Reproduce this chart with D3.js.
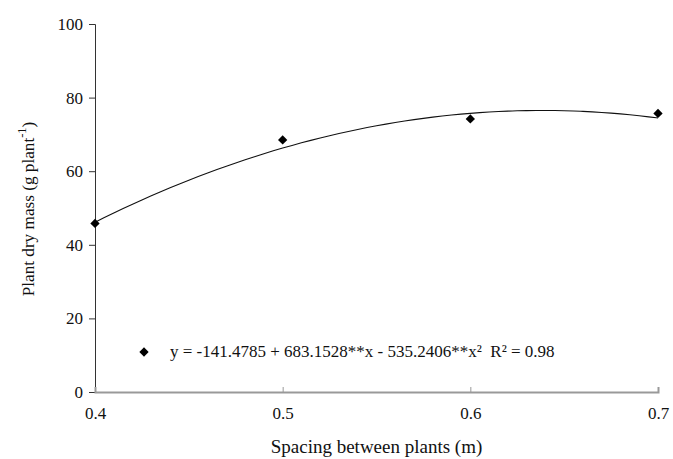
<!DOCTYPE html>
<html>
<head>
<meta charset="utf-8">
<script src="https://cdn.jsdelivr.net/npm/d3@7"></script>
<style>
  body { margin: 0; background: #fff; }
  text { font-family: "Liberation Serif", "Times New Roman", serif; }
</style>
</head>
<body>
<svg id="chart" width="673" height="459"></svg>
<script>
// observed values
const spacing = [0.4, 0.5, 0.6, 0.7];
const dryMass = [45.8, 68.5, 74.2, 75.7];
// regression coefficients shown in the legend
const coef = [-141.4785, 683.1528, -535.2406];
const xTicks = [0.4, 0.5, 0.6, 0.7];
const yTicks = [0, 20, 40, 60, 80, 100];

const margin = {top: 24, right: 15, bottom: 67, left: 95};
const width = 673 - margin.left - margin.right;
const height = 459 - margin.top - margin.bottom;

const svg = d3.select("#chart")
  .append("g")
  .attr("transform", `translate(${margin.left},${margin.top})`);

const x = d3.scaleLinear().domain([0.4, 0.7]).range([0, width]);
const y = d3.scaleLinear().domain([0, 100]).range([height, 0]);

// Y axis
const yAxis = svg.append("g")
  .call(d3.axisLeft(y).tickValues(yTicks).tickSize(6).tickPadding(6));
yAxis.select(".domain").attr("stroke", "#333");
yAxis.selectAll(".tick line").attr("stroke", "#333");
yAxis.selectAll("text").attr("font-size", 17).attr("fill", "#111")
  .style("font-family", "Liberation Serif");

// X axis (ticks point up)
const xAxis = svg.append("g")
  .attr("transform", `translate(0,${height})`)
  .call(d3.axisBottom(x).tickValues(xTicks).tickFormat(d3.format(".1f")).tickSize(-5).tickPadding(15));
xAxis.select(".domain").attr("stroke", "#999").attr("stroke-width", 2);
xAxis.selectAll(".tick line").attr("stroke", "#999");
xAxis.selectAll("text").attr("font-size", 17).attr("fill", "#111")
  .style("font-family", "Liberation Serif");

// Fitted curve
const curveX = d3.range(0.4, 0.7001, 0.005);
const line = d3.line()
  .x(d => x(d))
  .y(d => y(coef[0] + coef[1] * d + coef[2] * d * d))
  .curve(d3.curveBasis);
svg.append("path")
  .datum(curveX)
  .attr("d", line)
  .attr("fill", "none")
  .attr("stroke", "#111")
  .attr("stroke-width", 1.1);

// Points (diamonds)
const diamond = d3.symbol().type(d3.symbolDiamond2).size(55);
svg.selectAll(".pt")
  .data(spacing)
  .enter().append("path")
  .attr("class", "pt")
  .attr("transform", (d, i) => `translate(${x(d)},${y(dryMass[i])})`)
  .attr("d", diamond)
  .attr("fill", "#000");

// Legend
const legend = svg.append("g").attr("transform", `translate(${144 - margin.left},${352 - margin.top})`);
legend.append("path").attr("d", diamond).attr("fill", "#000");
legend.append("text")
  .attr("x", 26)
  .attr("y", 5)
  .attr("font-size", 17)
  .attr("fill", "#111")
  .text("y = -141.4785 + 683.1528**x - 535.2406**x²\u00a0\u00a0R² = 0.98");

// Axis titles
svg.append("text")
  .attr("x", width / 2)
  .attr("y", height + 61)
  .attr("text-anchor", "middle")
  .attr("font-size", 19)
  .attr("fill", "#111")
  .text("Spacing between plants (m)");

const yt = svg.append("text")
  .attr("transform", `translate(${-61},${height / 2 + 1}) rotate(-90)`)
  .attr("text-anchor", "middle")
  .attr("font-size", 17.2)
  .attr("fill", "#111");
yt.append("tspan").text("Plant dry mass (g plant");
yt.append("tspan").attr("dy", -8).attr("font-size", 12.5).text("-1");
yt.append("tspan").attr("dy", 8).text(")");
</script>
</body>
</html>
